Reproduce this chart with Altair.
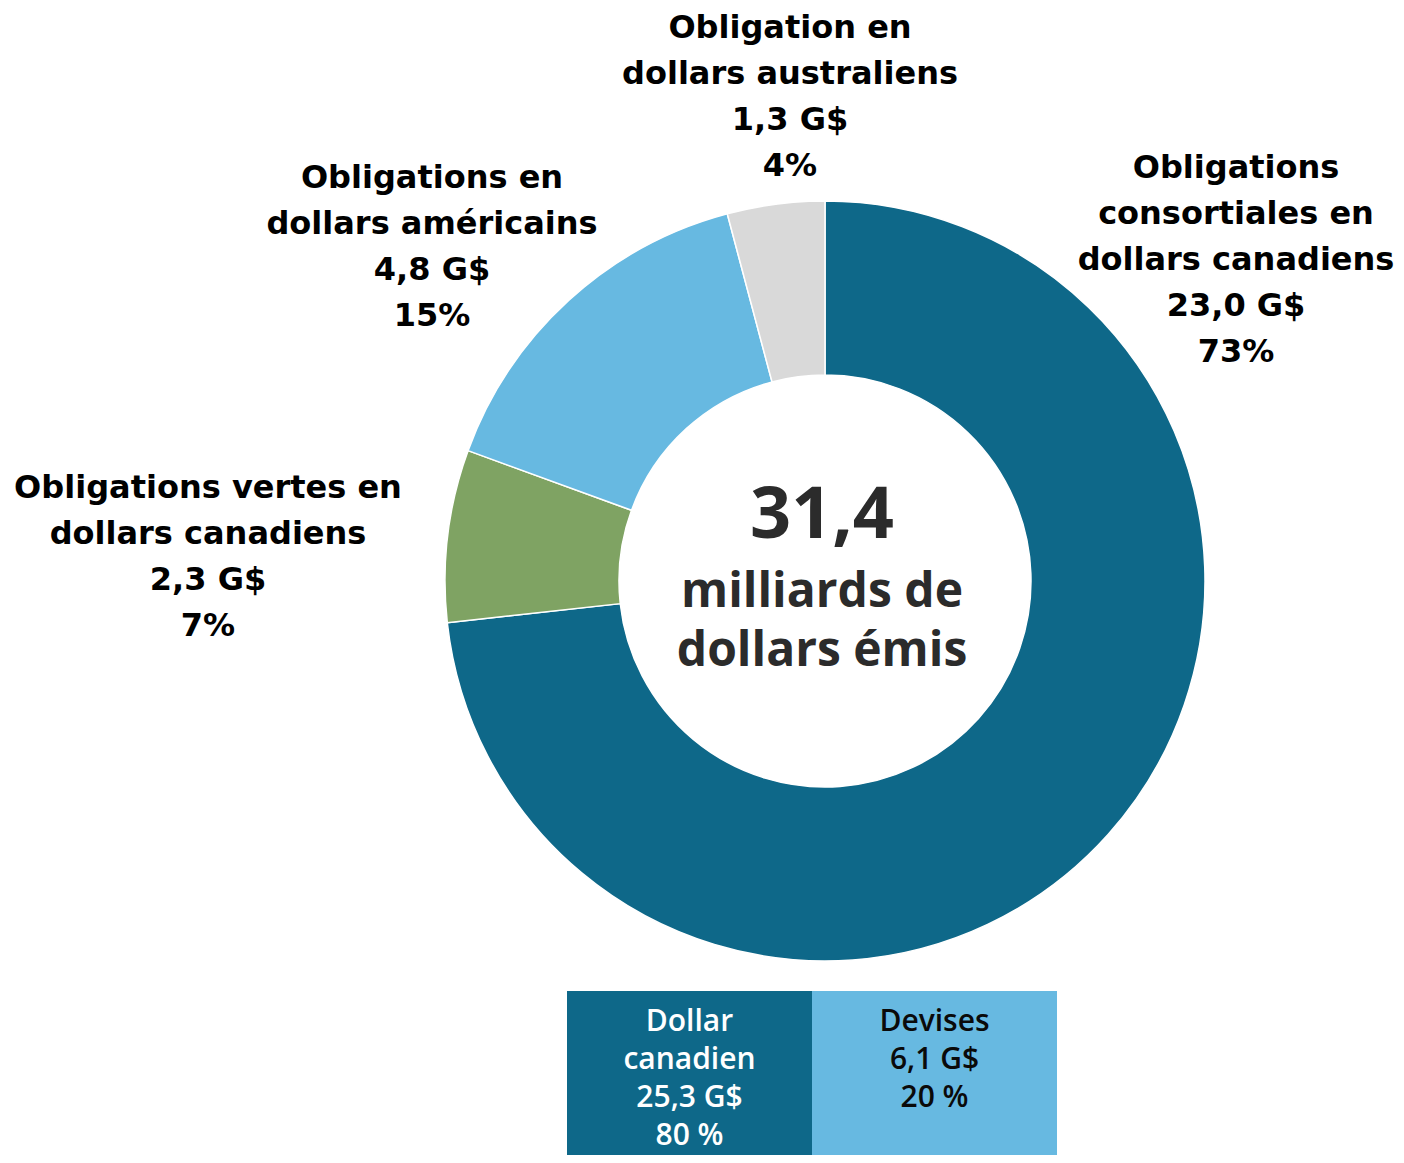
import altair as alt
import pandas as pd

# ---- data ----
categories = [
    "Obligations consortiales en dollars canadiens",
    "Obligations vertes en dollars canadiens",
    "Obligations en dollars américains",
    "Obligation en dollars australiens",
]
label_lines = [
    ["Obligations", "consortiales en", "dollars canadiens"],
    ["Obligations vertes en", "dollars canadiens"],
    ["Obligations en", "dollars américains"],
    ["Obligation en", "dollars australiens"],
]
values = [23.0, 2.3, 4.8, 1.3]
percents = [73, 7, 15, 4]
total_text = "31,4"
center_lines = ["milliards de", "dollars émis"]

box_cats = ["Dollar canadien", "Devises"]
box_lines = [["Dollar", "canadien"], ["Devises"]]
box_values = [25.3, 6.1]
box_pcts = [80, 20]

# ---- styles / layout ----
slice_colors = ["#0e6889", "#7fa363", "#67b9e1", "#d9d9d9"]
box_colors = ["#0e6889", "#67b9e1"]
box_text_colors = ["#ffffff", "#0a0a0a"]
cx, cy = 817, 573
label_x = [1228, 200, 424, 782]
label_y = [160, 480, 170, 20]
box_text_y = 999
W, H = 1388, 1147


def fmt(v):
    return f"{v:.1f}".replace(".", ",") + " G$"


pie_df = pd.DataFrame({
    "cat": categories,
    "value": values,
    "idx": list(range(len(categories))),
})

lab_df = pd.DataFrame({
    "cat": categories,
    "text": ["\n".join(l + [fmt(v), f"{p}%"]) for l, v, p in zip(label_lines, values, percents)],
    "lx": label_x,
    "ly": label_y,
})

box_df = pd.DataFrame({
    "bcat": box_cats,
    "text": ["\n".join(l + [fmt(v), f"{p} %"]) for l, v, p in zip(box_lines, box_values, box_pcts)],
})

arc = alt.Chart(pie_df).mark_arc(radius=380, radius2=206, stroke="white", strokeWidth=1.5).encode(
    theta=alt.Theta("value:Q", stack=True),
    order=alt.Order("idx:Q"),
    color=alt.Color("cat:N", scale=alt.Scale(domain=categories, range=slice_colors), legend=None),
    x=alt.value(cx),
    y=alt.value(cy),
)

labels = alt.Chart(lab_df).mark_text(
    font="DejaVu Sans", fontWeight="bold", fontSize=32, lineBreak="\n", lineHeight=46,
    align="center", baseline="middle", color="#000000",
).encode(
    x=alt.X("lx:Q", scale=None, axis=None),
    y=alt.Y("ly:Q", scale=None, axis=None),
    text="text:N",
)

center_big = alt.Chart(pd.DataFrame({"t": [total_text]})).mark_text(
    font="Open Sans", fontWeight="bold", fontSize=72, align="center", baseline="middle", color="#2b2b2b",
).encode(x=alt.value(814), y=alt.value(508), text="t:N")

center_small = alt.Chart(pd.DataFrame({"t": ["\n".join(center_lines)]})).mark_text(
    font="Open Sans", fontWeight="bold", fontSize=48, lineBreak="\n", lineHeight=59,
    align="center", baseline="middle", color="#2b2b2b",
).encode(x=alt.value(814), y=alt.value(585), text="t:N")

xband = alt.X("bcat:N", scale=alt.Scale(domain=box_cats, range=[559, 1049], paddingInner=0, paddingOuter=0),
              axis=None)

boxes = alt.Chart(box_df).mark_rect().encode(
    x=xband,
    y=alt.value(983),
    y2=alt.value(H),
    color=alt.Color("bcat:N", scale=alt.Scale(domain=box_cats, range=box_colors), legend=None),
)

box_text = alt.Chart(box_df).mark_text(
    font="Open Sans", fontWeight=600, fontSize=30, lineBreak="\n", lineHeight=38,
    align="center", baseline="top",
).encode(
    x=alt.X("bcat:N", scale=alt.Scale(domain=box_cats, range=[559, 1049], paddingInner=0, paddingOuter=0),
            axis=None, bandPosition=0.5),
    y=alt.value(box_text_y),
    text="text:N",
    color=alt.Color("bcat:N", scale=alt.Scale(domain=box_cats, range=box_text_colors), legend=None),
)

chart = alt.layer(arc, labels, center_big, center_small, boxes, box_text).resolve_scale(
    color="independent", x="independent", y="independent"
).properties(
    width=W, height=H, padding=0, autosize=alt.AutoSizeParams(type="none")
).configure_view(stroke=None)

chart.save("out.html", embed_options={"renderer": "svg", "actions": False})
